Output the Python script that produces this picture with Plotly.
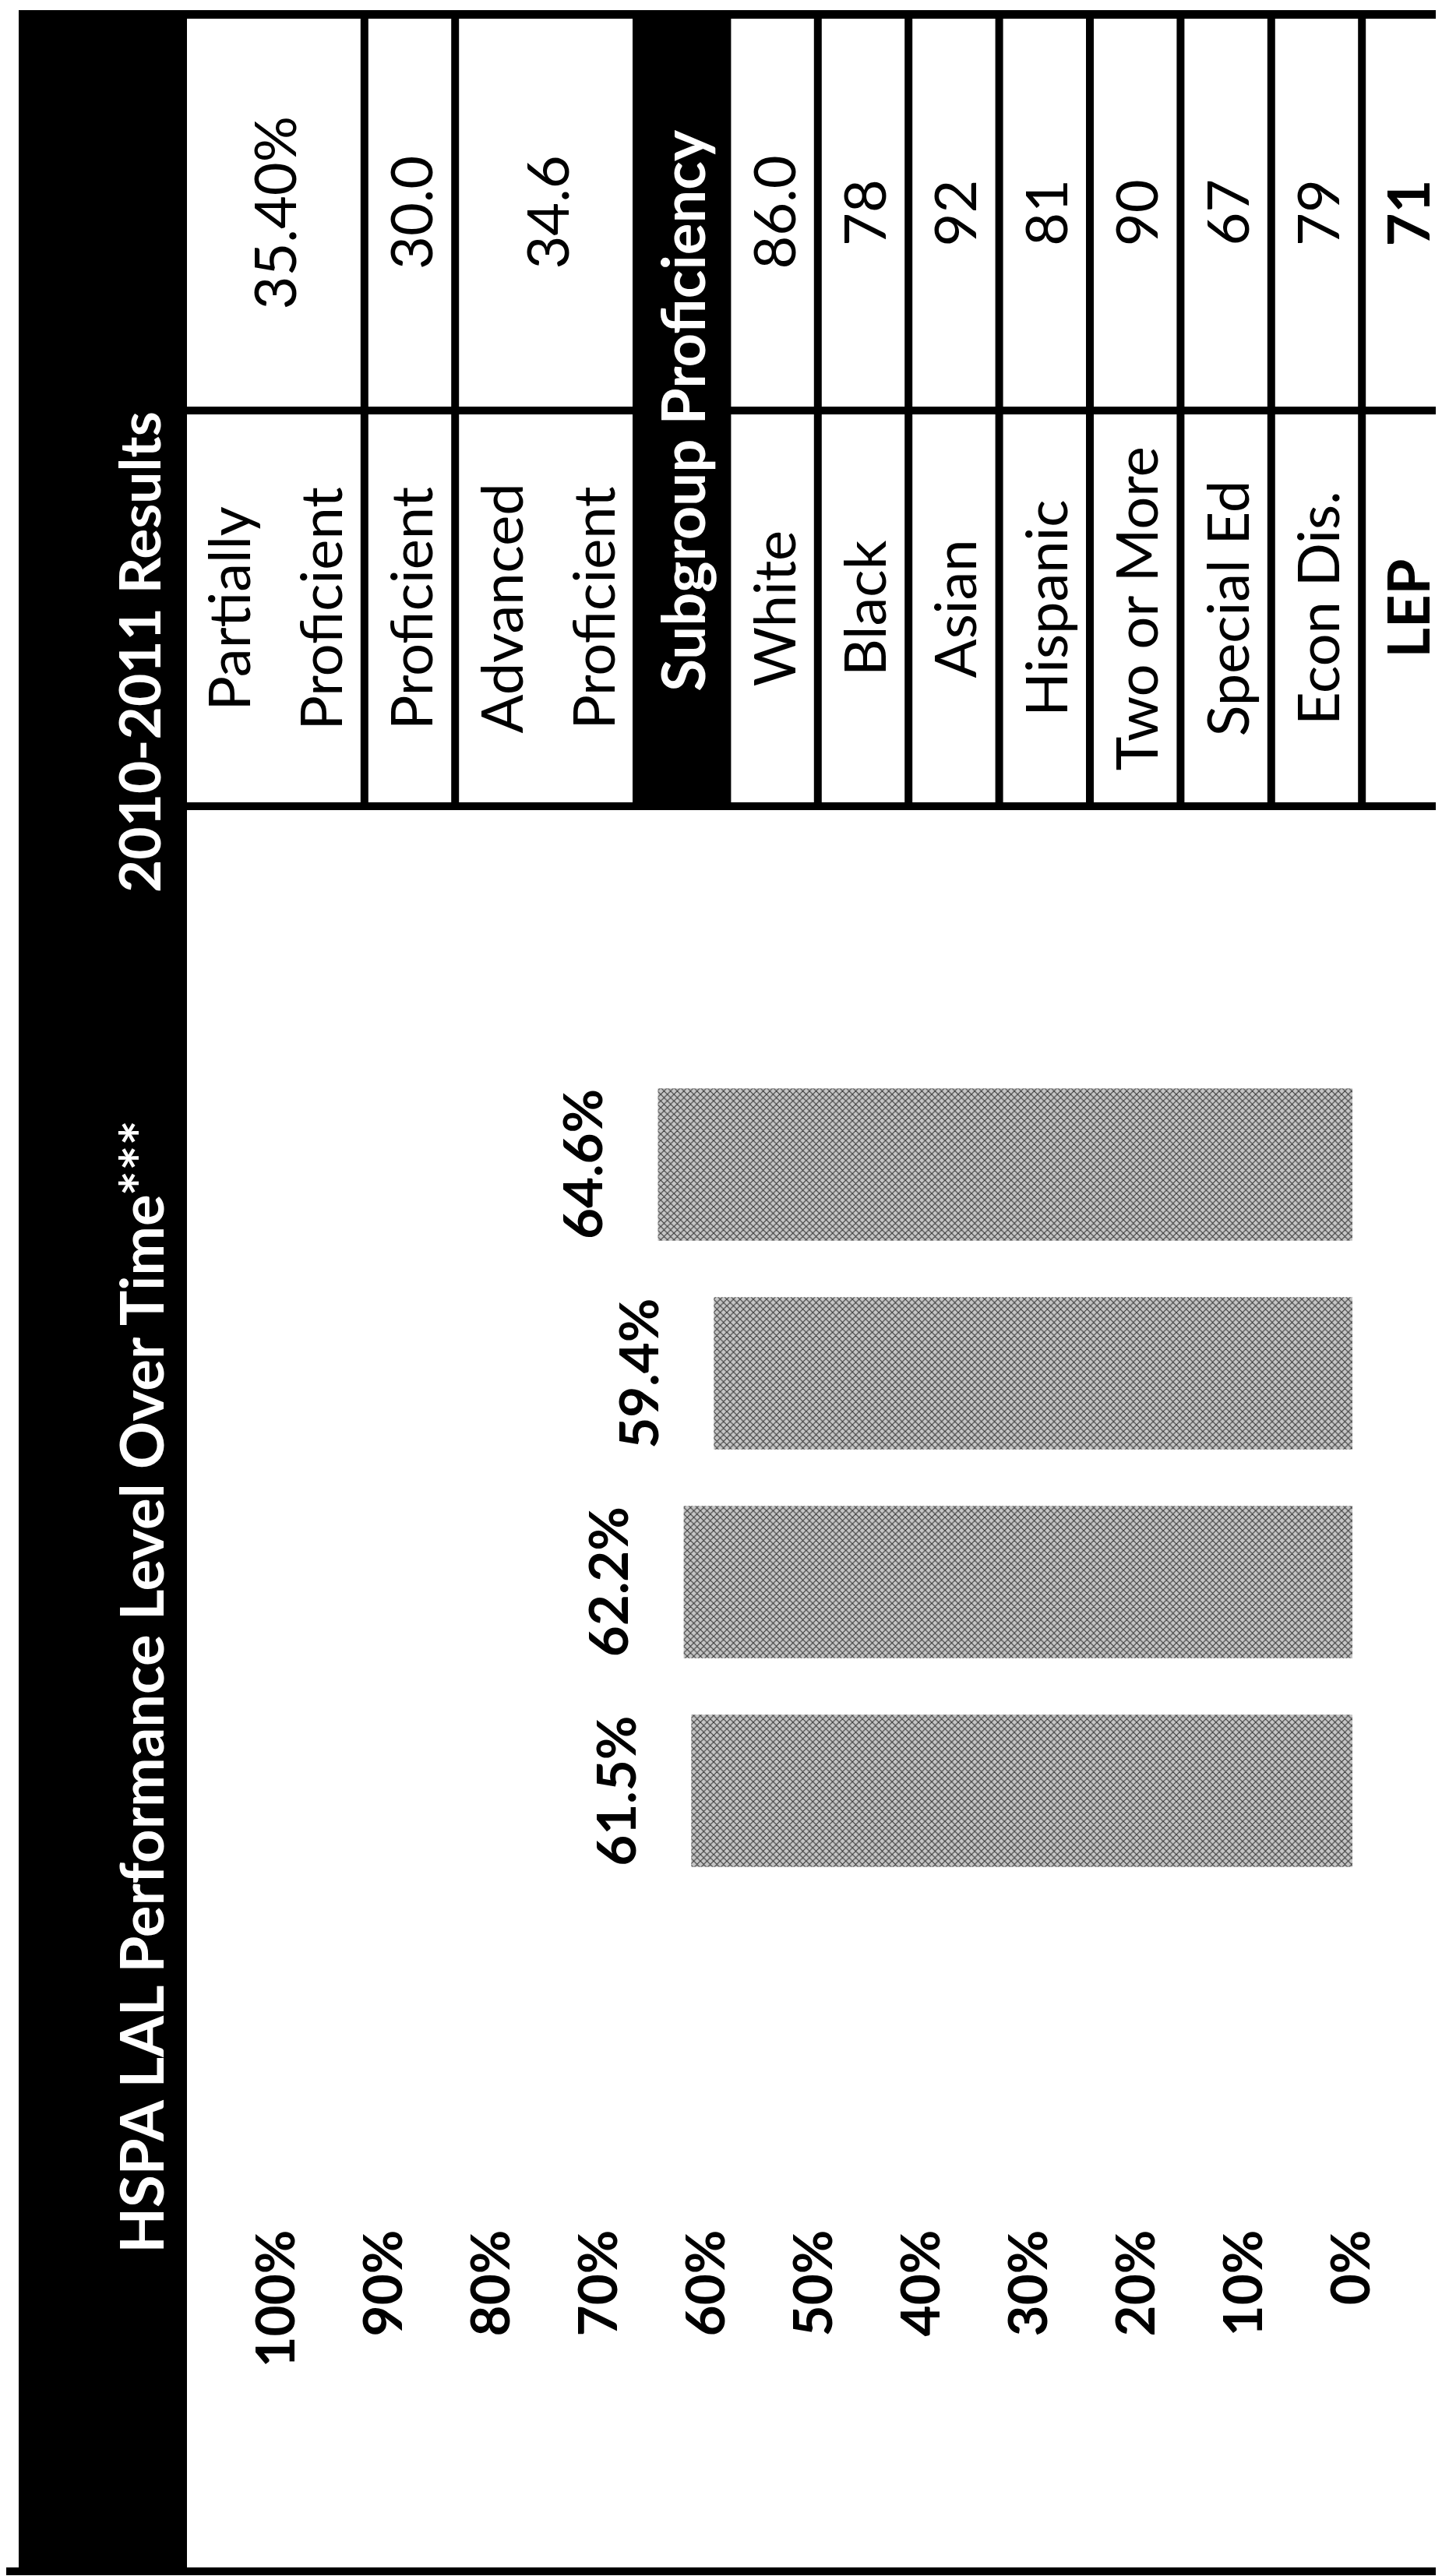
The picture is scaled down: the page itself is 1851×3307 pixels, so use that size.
import plotly.graph_objects as go

W, H = 1851, 3307

# chart data (bars)
years = ["Year 1", "Year 2", "Year 3", "Year 4"]
proficiency = [61.5, 62.2, 59.4, 64.6]
tick_values = [0, 10, 20, 30, 40, 50, 60, 70, 80, 90, 100]
tick_labels = ["0%", "10%", "20%", "30%", "40%", "50%", "60%", "70%", "80%", "90%", "100%"]

# results table
level_labels = ["Partially<br>Proficient", "Proficient", "Advanced<br>Proficient"]
level_values = ["35.40%", "30.0", "34.6"]
subgroups = ["White", "Black", "Asian", "Hispanic", "Two or More", "Special Ed", "Econ Dis.", "LEP"]
subgroup_values = ["86.0", "78", "92", "81", "90", "67", "79", "71"]

title = "HSPA LAL Performance Level Over Time***"
table_title = "2010-2011 Results"
subgroup_title = "Subgroup Proficiency"

FONT = "Lato"


def px(x):
    return x / W


def py(y):
    return 1 - y / H


# table geometry, in pixels of the page
ROW = 116.4      # one text line of the table
COL = 508        # one table column
SEP = 10         # border width
TABLE_LEFT, TABLE_TOP, TABLE_BOTTOM = 232, 5, 1032

# chart geometry: bar pitch and where the first bar sits
PLOT_BOTTOM = 2840
PITCH = 268
FIRST_BAR = 2291

fig = go.Figure()

fig.add_trace(go.Bar(
    x=proficiency, y=years, orientation="h", width=0.73,
    marker=dict(color="#a0a0a0", line=dict(width=0),
                pattern=dict(shape="x", fgcolor="#3a3a3a", bgcolor="#c6c6c6",
                             size=6, solidity=0.35)),
    hoverinfo="skip", showlegend=False,
))
# empty trace so that the table subplot exists
fig.add_trace(go.Scatter(x=[], y=[], xaxis="x2", yaxis="y2", showlegend=False))

shapes = []
annotations = []

# black title band on the left and bottom frame line
shapes.append(dict(type="rect", xref="paper", yref="paper", x0=px(16), x1=px(TABLE_LEFT),
                   y0=py(3298), y1=py(TABLE_TOP), fillcolor="black", line=dict(width=0), layer="below"))
shapes.append(dict(type="rect", xref="paper", yref="paper", x0=0, x1=1,
                   y0=py(3298), y1=py(3288), fillcolor="black", line=dict(width=0), layer="below"))

# table rows: (label, value, kind)
rows = [(l, v, "cell") for l, v in zip(level_labels, level_values)]
rows.append((subgroup_title, None, "header"))
rows += [(s, v, "cell") for s, v in zip(subgroups, subgroup_values)]

x_top = (W - TABLE_LEFT) / ROW
y_top = (TABLE_BOTTOM - TABLE_TOP) / COL
sx = SEP / ROW
sy = SEP / COL

shapes.append(dict(type="rect", xref="x2", yref="y2", x0=0, x1=x_top + 1, y0=0, y1=y_top,
                   fillcolor="black", line=dict(width=0), layer="below"))

regular = dict(family=FONT, size=74, color="black")
bold = dict(family=FONT, size=74, color="black", weight="bold")

start = 0
for label, value, kind in rows:
    lines = label.split("<br>")
    end = start + len(lines)
    mid = (start + end - sx) / 2
    if kind == "header":
        annotations.append(dict(xref="x2", yref="y2", x=mid, y=(y_top) / 2, text=label,
                                textangle=-90, showarrow=False,
                                font=dict(family=FONT, size=76, color="white", weight="bold")))
    else:
        f = bold if label == "LEP" else regular
        for k in (0, 1):
            shapes.append(dict(type="rect", xref="x2", yref="y2", x0=start, x1=end - sx,
                               y0=k + sy, y1=k + 1, fillcolor="white", line=dict(width=0), layer="below"))
        for j, line in enumerate(lines):
            annotations.append(dict(xref="x2", yref="y2", x=mid + (j - (len(lines) - 1) / 2) * 1.014,
                                    y=0.5 + sy / 2, text=line, textangle=-90, showarrow=False, font=f))
        annotations.append(dict(xref="x2", yref="y2", x=mid, y=1.5 + sy / 2, text=value,
                                textangle=-90, showarrow=False, font=f))
    start = end

# headers in the black band
annotations.append(dict(xref="paper", yref="paper", x=px(124), y=py(518), text=table_title,
                        textangle=-90, showarrow=False,
                        font=dict(family=FONT, size=73, color="white", weight="bold")))
annotations.append(dict(xref="paper", yref="paper", x=px(124), y=py(2158), text=title,
                        textangle=-90, showarrow=False,
                        font=dict(family=FONT, size=76, color="white", weight="bold")))

# bar value labels
for yr, v in zip(years, proficiency):
    annotations.append(dict(xref="x", yref="y", x=v, y=yr, text=f"{v:.1f}%", textangle=-90,
                            xanchor="right", yanchor="middle", xshift=-55, showarrow=False,
                            font=dict(family=FONT, size=69, color="black", weight="bold")))

fig.update_layout(
    template="none",
    width=W, height=H,
    margin=dict(l=0, r=0, t=0, b=0, pad=0, autoexpand=False),
    paper_bgcolor="white", plot_bgcolor="rgba(0,0,0,0)",
    showlegend=False,
    shapes=shapes, annotations=annotations,
    xaxis=dict(domain=[px(348), px(1728)], range=[100, 0], tickvals=tick_values, ticktext=tick_labels,
               tickangle=-90, tickfont=dict(family=FONT, size=69, color="black", weight="bold"),
               showgrid=False, zeroline=False, showline=False, ticks="", anchor="y", automargin=False),
    yaxis=dict(domain=[py(PLOT_BOTTOM), py(TABLE_BOTTOM)],
               range=[-(PLOT_BOTTOM - FIRST_BAR) / PITCH, (FIRST_BAR - TABLE_BOTTOM) / PITCH],
               type="category", showticklabels=False, showgrid=False, zeroline=False, showline=False,
               ticks="", anchor="x", automargin=False),
    xaxis2=dict(domain=[px(TABLE_LEFT), 1], range=[0, x_top], visible=False, anchor="y2", automargin=False),
    yaxis2=dict(domain=[py(TABLE_BOTTOM), py(TABLE_TOP)], range=[0, y_top], visible=False, anchor="x2",
                automargin=False),
)

fig.write_html("out.html")
